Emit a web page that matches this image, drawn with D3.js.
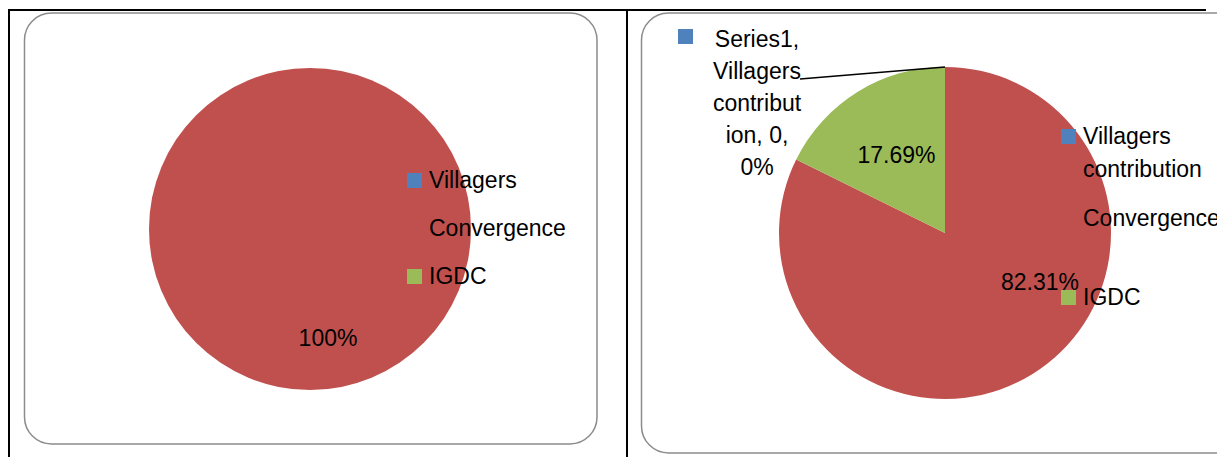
<!DOCTYPE html>
<html>
<head>
<meta charset="utf-8">
<script src="https://cdn.jsdelivr.net/npm/d3@7"></script>
<style>
  body { margin: 0; background: #fff; }
  svg { display: block; font-family: "Liberation Sans", Arial, sans-serif; }
</style>
</head>
<body>
<script>
"use strict";
(function(){
    // data
    const categories = ["Villagers contribution", "Convergence", "IGDC"];
    const sliceColors = ["#4F81BD", "#C0504D", "#9BBB59"];
    const leftValues = [0, 100, 0];
    const rightValues = [0, 82.31, 17.69];
    const leftLegendLines = [["Villagers"], ["Convergence"], ["IGDC"]];
    const rightLegendLines = [["Villagers", "contribution"], ["Convergence"], ["IGDC"]];
    const zeroLabelLines = ["Series1,", "Villagers", "contribut", "ion, 0,", "0%"];

    const measurements = { width: 1217, height: 457 };

    const svg = d3.select("body").append("svg")
        .attr("width", measurements.width)
        .attr("height", measurements.height);

    // table borders
    svg.append("line").attr("x1", 8).attr("x2", 1206).attr("y1", 10).attr("y2", 10)
        .attr("stroke", "#000").attr("stroke-width", 2);
    svg.append("line").attr("x1", 9).attr("x2", 9).attr("y1", 9).attr("y2", 457)
        .attr("stroke", "#000").attr("stroke-width", 2);
    svg.append("line").attr("x1", 627).attr("x2", 627).attr("y1", 9).attr("y2", 457)
        .attr("stroke", "#000").attr("stroke-width", 2);

    // chart frames
    svg.append("rect").attr("x", 24.5).attr("y", 13).attr("width", 572.5).attr("height", 431)
        .attr("rx", 27).attr("fill", "none").attr("stroke", "#8c8c8c").attr("stroke-width", 1.5);
    svg.append("rect").attr("x", 641.5).attr("y", 13).attr("width", 600).attr("height", 440)
        .attr("rx", 27).attr("fill", "none").attr("stroke", "#8c8c8c").attr("stroke-width", 1.5);

    const fontSize = 23;
    const pie = d3.pie().sort(null).value(d => d);

    function drawPie(g, values, radius, labelRadius, nudges) {
        const arcs = pie(values);
        const arc = d3.arc().innerRadius(0).outerRadius(radius);
        const labelArc = d3.arc().innerRadius(labelRadius).outerRadius(labelRadius);
        g.selectAll("path.slice")
            .data(arcs)
            .enter()
            .append("path")
                .attr("class", "slice")
                .attr("d", arc)
                .attr("fill", (d, i) => sliceColors[i]);
        const total = d3.sum(values);
        g.selectAll("text.pct")
            .data(arcs.filter(d => d.value > 0))
            .enter()
            .append("text")
                .attr("class", "pct")
                .attr("transform", d => {
                    const c = labelArc.centroid(d);
                    const n = nudges[d.index] || [0, 0];
                    return "translate(" + (c[0] + n[0]) + "," + (c[1] + n[1]) + ")";
                })
                .attr("text-anchor", "middle")
                .attr("dy", "0.35em")
                .attr("font-size", fontSize)
                .text(d => {
                    const p = d.value / total * 100;
                    return (p === 100 ? "100" : p.toFixed(2)) + "%";
                });
        return arcs;
    }

    function drawLegend(g, lines, x, ys, lineGap) {
        lines.forEach((ls, i) => {
            g.append("rect")
                .attr("x", x - 22).attr("y", ys[i] - 15)
                .attr("width", 15).attr("height", 15)
                .attr("fill", sliceColors[i]);
            ls.forEach((t, j) => {
                g.append("text")
                    .attr("x", x).attr("y", ys[i] + j * lineGap)
                    .attr("font-size", fontSize)
                    .text(t);
            });
        });
    }

    // left chart
    const left = svg.append("g").attr("transform", "translate(310,229)");
    drawPie(left, leftValues, 161, 109, { 1: [18, 0] });
    drawLegend(svg.append("g"), leftLegendLines, 429, [188, 236, 284], 33);

    // right chart
    const right = svg.append("g").attr("transform", "translate(945,233)");
    const rArcs = drawPie(right, rightValues, 166, 92, {});
    // the red label sits where the picture has it, not on the centroid
    right.selectAll("text.pct").filter(d => d.index === 1)
        .attr("transform", "translate(95,49)");

    // zero-slice label with leader line
    const zeroArc = rArcs[0];
    const edge = d3.arc().innerRadius(166).outerRadius(166).centroid({ startAngle: zeroArc.startAngle, endAngle: zeroArc.endAngle });
    right.append("polyline")
        .attr("points", [[800 - 945, 79 - 233], edge].map(p => p.join(",")).join(" "))
        .attr("fill", "none").attr("stroke", "#000").attr("stroke-width", 1.5);
    const zl = svg.append("g");
    zl.append("rect").attr("x", 678).attr("y", 29).attr("width", 15).attr("height", 15)
        .attr("fill", sliceColors[0]);
    zeroLabelLines.forEach((t, i) => {
        zl.append("text")
            .attr("x", 757).attr("y", 47 + i * 32)
            .attr("text-anchor", "middle")
            .attr("font-size", fontSize)
            .text(t);
    });

    drawLegend(svg.append("g"), rightLegendLines, 1083, [144, 226, 305], 33);
})()
</script>
</body>
</html>
